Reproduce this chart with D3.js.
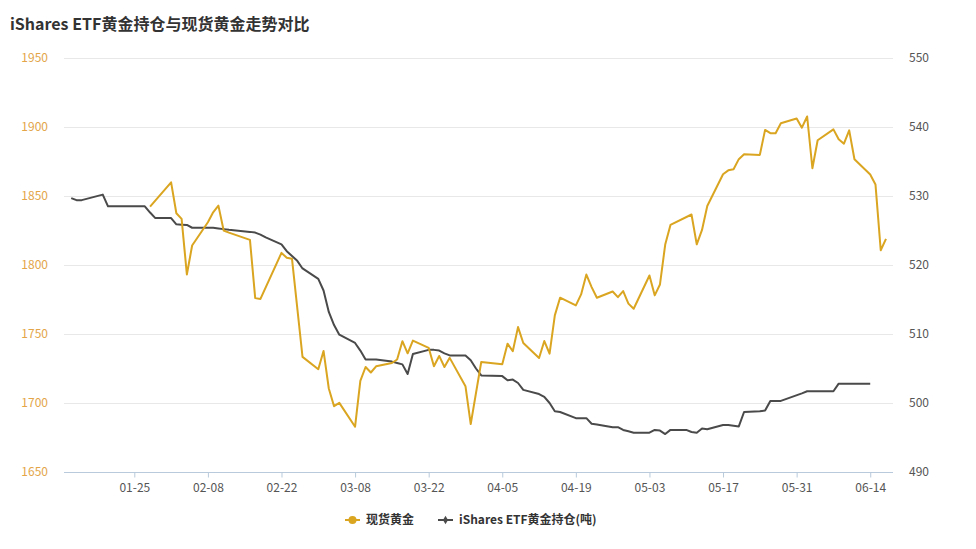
<!DOCTYPE html>
<html><head><meta charset="utf-8">
<script src="https://cdn.jsdelivr.net/npm/d3@7"></script>
<style>
html,body{margin:0;padding:0;background:#fff;}
svg{display:block;font-family:"Noto Sans CJK SC","Noto Sans",sans-serif;}
</style></head>
<body><svg id="c" width="976" height="549"></svg>
<script>
const title = "iShares ETF黄金持仓与现货黄金走势对比";
const seriesNames = ["现货黄金", "iShares ETF黄金持仓(吨)"];
const xTickLabels = ["01-25","02-08","02-22","03-08","03-22","04-05","04-19","05-03","05-17","05-31","06-14"];
const leftTicks = [1650,1700,1750,1800,1850,1900,1950];
const rightTicks = [490,500,510,520,530,540,550];

const goldDates = ["01-28","02-01","02-02","02-03","02-04","02-05","02-08","02-09","02-10","02-11","02-12","02-16","02-17","02-18","02-22","02-23","02-24","02-26",
"03-01","03-02","03-03","03-04","03-05","03-08","03-09","03-10","03-11","03-12","03-15","03-16","03-17","03-18","03-19","03-22","03-23","03-24","03-25","03-26","03-29","03-30",
"04-01","04-05","04-06","04-07","04-08","04-09","04-12","04-13","04-14","04-15","04-16","04-19","04-20","04-21","04-22","04-23","04-26","04-27","04-28","04-29","04-30",
"05-03","05-04","05-05","05-06","05-07","05-11","05-12","05-13","05-14","05-17","05-18","05-19","05-20","05-21","05-24","05-25","05-26","05-27","05-28","05-31",
"06-01","06-02","06-03","06-04","06-07","06-08","06-09","06-10","06-11","06-14","06-15","06-16","06-17"];
const goldValues = [1842.3,1859.9,1837.5,1833.4,1793.1,1814.1,1831,1838.2,1843,1825,1823.5,1818.2,1776,1775.4,1808.8,1805.2,1804.5,1733.4,
1724.5,1737.7,1710.5,1697.7,1700.1,1682.8,1716,1726.1,1722.1,1726.6,1729,1731.5,1744.8,1736,1745.2,1740,1726.6,1734.1,1726.1,1732.7,1712.2,1684.7,
1729.7,1728.1,1743,1737.5,1755,1743.5,1732.6,1744.9,1735.8,1763.5,1776.3,1770.7,1778.7,1793.1,1784,1776.3,1780.8,1776.7,1781.1,1772,1768.3,
1792.4,1778,1785.9,1814.8,1829,1836.6,1815,1825.4,1842.8,1865.8,1868.6,1869.4,1876.7,1880.3,1879.8,1897.9,1895.5,1895.5,1902.7,1906.1,
1899.5,1907.6,1870.1,1890.4,1898.3,1891.1,1887.9,1897.6,1876.6,1865.6,1858.4,1810.7,1818.9];

const etfDates = ["01-13","01-14","01-15","01-19","01-20","01-21","01-22","01-25","01-26","01-27","01-28","01-29",
"02-01","02-02","02-03","02-04","02-05","02-08","02-09","02-10","02-11","02-12","02-16","02-17","02-18","02-19","02-22","02-23","02-24","02-25","02-26",
"03-01","03-02","03-03","03-04","03-05","03-08","03-09","03-10","03-11","03-12","03-15","03-16","03-17","03-18","03-19","03-22","03-23","03-24","03-25","03-26","03-29","03-30","03-31",
"04-01","04-05","04-06","04-07","04-08","04-09","04-12","04-13","04-14","04-15","04-16","04-19","04-20","04-21","04-22","04-23","04-26","04-27","04-28","04-29","04-30",
"05-03","05-04","05-05","05-06","05-07","05-10","05-11","05-12","05-13","05-14","05-17","05-18","05-19","05-20","05-21","05-24","05-25","05-26","05-27","05-28",
"06-01","06-02","06-03","06-04","06-07","06-08","06-09","06-10","06-11","06-14"];
const etfValues = [529.7,529.4,529.4,530.2,528.5,528.5,528.5,528.5,528.5,528.5,527.6,526.8,
526.8,525.9,525.85,525.8,525.4,525.4,525.4,525.3,525.2,525.1,524.8,524.7,524.4,524.0,523.0,522.0,521.3,520.6,519.5,
518.0,516.3,513.2,511.3,509.9,508.7,507.6,506.3,506.3,506.3,506.0,505.8,505.6,504.2,507.1,507.7,507.7,507.6,507.2,506.9,506.9,506.2,505.0,
504.0,503.9,503.3,503.4,502.9,501.9,501.3,500.9,500.0,498.8,498.7,497.8,497.8,497.8,497.0,496.9,496.5,496.5,496.1,495.9,495.7,
495.7,496.1,496.0,495.5,496.1,496.1,495.8,495.7,496.3,496.2,496.8,496.8,496.7,496.6,498.7,498.8,498.9,500.3,500.3,500.3,
501.4,501.7,501.7,501.7,501.7,502.8,502.8,502.8,502.8,502.8];

const parse = s => { const [m,d] = s.split("-").map(Number); return new Date(2021, m-1, d); };
const goldColor = "#DAA520", etfColor = "#4a4a4a";

const svg = d3.select("#c");
const L = 64, R = 893, T = 58, B = 472;
const x = d3.scaleTime().domain([new Date(2021,0,11,15), new Date(2021,5,18,8)]).range([L,R]);
const yL = d3.scaleLinear().domain([1650,1950]).range([B,T]);
const yR = d3.scaleLinear().domain([490,550]).range([B,T]);

svg.append("rect").attr("width",976).attr("height",549).attr("fill","#fff");

svg.append("text").attr("x",10).attr("y",30).attr("font-size",16).attr("font-weight","bold")
  .attr("fill","#333").text(title);

// grid
svg.append("g").selectAll("line").data(leftTicks.slice(1)).join("line")
  .attr("x1",L).attr("x2",R).attr("y1",d=>yL(d)+0.5).attr("y2",d=>yL(d)+0.5)
  .attr("stroke","#e8e8e8").attr("stroke-width",1);

// left axis labels
svg.append("g").selectAll("text").data(leftTicks).join("text")
  .attr("x",48).attr("y",d=>yL(d)).attr("dy","0.35em").attr("text-anchor","end")
  .attr("font-size",12).attr("fill","#e3a548").text(d=>d);
// right axis labels
svg.append("g").selectAll("text").data(rightTicks).join("text")
  .attr("x",909).attr("y",d=>yR(d)).attr("dy","0.35em").attr("text-anchor","start")
  .attr("font-size",12).attr("fill","#555").text(d=>d);

// x axis
const xTicks = xTickLabels.map(parse);
const xAxis = d3.axisBottom(x).tickValues(xTicks).tickFormat(d3.timeFormat("%m-%d")).tickSize(5).tickPadding(6);
const gx = svg.append("g").attr("transform",`translate(0,${B+0.5})`).call(xAxis);
gx.select(".domain").attr("stroke","#b8cadb").attr("d",`M${L},0H${R}`);
gx.selectAll(".tick line").attr("stroke","#b8cadb");
gx.selectAll(".tick text").attr("font-size",12).attr("fill","#555")
  .attr("font-family","'Noto Sans CJK SC','Noto Sans',sans-serif");

// lines
const gold = goldDates.map((d,i)=>({d:parse(d), v:goldValues[i]}));
const etf = etfDates.map((d,i)=>({d:parse(d), v:etfValues[i]}));
svg.append("path").datum(etf).attr("fill","none").attr("stroke",etfColor).attr("stroke-width",2)
  .attr("stroke-linejoin","round")
  .attr("d", d3.line().x(p=>x(p.d)).y(p=>yR(p.v)));
svg.append("path").datum(gold).attr("fill","none").attr("stroke",goldColor).attr("stroke-width",2)
  .attr("stroke-linejoin","round")
  .attr("d", d3.line().x(p=>x(p.d)).y(p=>yL(p.v)));

// legend
const lg = svg.append("g").attr("font-size",12).attr("fill","#333");
const items = [{name:seriesNames[0], c:goldColor, x0:345, tx:366, shape:"circle"},
               {name:seriesNames[1], c:etfColor, x0:438, tx:459, shape:"diamond"}];
items.forEach(it=>{
  lg.append("line").attr("x1",it.x0).attr("x2",it.x0+15).attr("y1",520).attr("y2",520)
    .attr("stroke",it.c).attr("stroke-width",2);
  if (it.shape==="circle") lg.append("circle").attr("cx",it.x0+7.5).attr("cy",520).attr("r",4).attr("fill",it.c);
  else lg.append("path").attr("d",d3.symbol(d3.symbolDiamond,22)()).attr("transform",`translate(${it.x0+7.5},520)`).attr("fill",it.c);
  lg.append("text").attr("x",it.tx).attr("y",520).attr("dy","0.35em").attr("font-weight","bold").attr("fill","#333").text(it.name);
});
</script></body></html>
